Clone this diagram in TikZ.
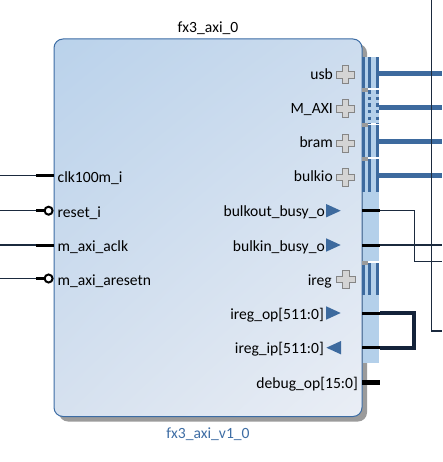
\documentclass[tikz,border=0pt]{standalone}
\usepackage{fontspec}
\usetikzlibrary{shadings}
\setmainfont{Carlito}
\definecolor{bordblue}{HTML}{3C6CA4}
\definecolor{stripblue}{HTML}{B4D0EA}
\definecolor{barblue}{HTML}{3D6A9E}
\definecolor{navy}{HTML}{1B2A3E}
\definecolor{loopnavy}{HTML}{14233A}
\definecolor{shadowgray}{HTML}{9B9B9B}
\definecolor{plusfill}{HTML}{D4D4D4}
\definecolor{plusdraw}{HTML}{858585}
\definecolor{titleblue}{HTML}{3E6DA4}
\definecolor{cUL}{HTML}{BAD2EB}
\definecolor{cUR}{HTML}{CCDCEE}
\definecolor{cLL}{HTML}{D6E1EF}
\definecolor{cLR}{HTML}{EAEEF5}
\tikzset{
  lbl/.style={font=\fontsize{15.6}{18}\selectfont, inner sep=0pt, text=black},
  pinstub/.style={line width=3pt, black},
  busstub/.style={line width=5pt, black},
  wire/.style={line width=1.2pt, navy},
  busline/.style={line width=5pt, barblue},
  loopwire/.style={line width=4pt, loopnavy, line join=miter},
  barfill/.style={fill=barblue},
  seprect/.style={fill=shadowgray},
  bubble/.style={draw=black, fill=white, line width=2pt, circle, minimum size=8pt, inner sep=0pt},
  pics/plusicon/.style={code={
    \filldraw[fill=plusfill, draw=plusdraw, line width=1pt]
      (-9.3,-3.2) -- (-3.2,-3.2) -- (-3.2,-9) -- (3.2,-9) -- (3.2,-3.2) -- (9.3,-3.2)
      -- (9.3,3.2) -- (3.2,3.2) -- (3.2,9) -- (-3.2,9) -- (-3.2,3.2) -- (-9.3,3.2) -- cycle;
  }},
  pics/outtri/.style={code={\fill[barblue] (-7.3,-6.7) -- (7.3,0) -- (-7.3,6.7) -- cycle;}},
  pics/intri/.style={code={\fill[barblue] (7.3,-6.7) -- (-7.3,0) -- (7.3,6.7) -- cycle;}},
}
\begin{document}
\begin{tikzpicture}[x=1pt,y=-1pt]
\useasboundingbox (0,0) rectangle (442,462);
% shadow and block
\node[fill=shadowgray, rounded corners=9pt, minimum width=308pt, minimum height=377.5pt, inner sep=0pt] (shadow) at (213,232.75) {};
\node[shade, upper left=cUL, upper right=cUR, lower left=cLL, lower right=cLR, draw=bordblue, line width=1pt, rounded corners=9pt, minimum width=308pt, minimum height=377.5pt, inner sep=0pt] (blk) at (208,227.75) {};
\node[lbl, anchor=base] (title) at (208,33) {fx3\_axi\_0};
\node[lbl, anchor=base, text=titleblue] (subtitle) at (208,438.3) {fx3\_axi\_v1\_0};

% right strip segments
\fill[stripblue] (362.5,57.5) rectangle (379,88.5);
\fill[stripblue] (362.5,90.3) rectangle (379,123.5);
\fill[stripblue] (362.5,125.3) rectangle (379,157.5);
\fill[stripblue] (362.5,159.3) rectangle (379,261.3);
\fill[stripblue] (362.5,263.3) rectangle (379,362.5);
% interface bars
\foreach \ta/\tb in {57.5/88.5, 125.3/157.5, 159.3/192, 263.3/294.5}{
  \fill[barfill] (362,\ta) rectangle (365,\tb);
  \fill[barfill] (368.3,\ta) rectangle (371,\tb);
  \fill[barfill] (376,\ta) rectangle (379,\tb);
}
\fill[barfill] (362,90.3) rectangle (364.5,123.5);
\draw[barblue, line width=2.7pt, dash pattern=on 3.3pt off 3.3pt] (369.6,90.3) -- (369.6,123.5);
\draw[barblue, line width=3pt, dash pattern=on 3.3pt off 3.3pt] (377.5,90.3) -- (377.5,123.5);
% separators
\foreach \ta in {88.5, 123.5, 157.5, 261.3}{
  \fill[seprect] (362,\ta) rectangle (368,\ta+4);
}

% right-side labels
\node[lbl, anchor=base east] (lusb) at (333,79.5) {usb};
\node[lbl, anchor=base east] (lmaxi) at (333,114) {M\_AXI};
\node[lbl, anchor=base east] (lbram) at (333,148) {bram};
\node[lbl, anchor=base east] (lbulkio) at (333,182) {bulkio};
\node[lbl, anchor=base east] (lbulkout) at (325,216.7) {bulkout\_busy\_o};
\node[lbl, anchor=base east] (lbulkin) at (325,251) {bulkin\_busy\_o};
\node[lbl, anchor=base east] (lireg) at (332,285) {ireg};
\node[lbl, anchor=base east] (liregop) at (324,319) {ireg\_op[511:0]};
\node[lbl, anchor=base east] (liregip) at (324,353.5) {ireg\_ip[511:0]};
\node[lbl, anchor=base east] (ldebug) at (358,388.7) {debug\_op[15:0]};
% icons
\pic at (345.5,75) {plusicon};
\pic at (345.5,109) {plusicon};
\pic at (345.5,143.5) {plusicon};
\pic at (345.5,177.5) {plusicon};
\pic at (346,279.7) {plusicon};
\pic at (333.4,210.7) {outtri};
\pic at (333.4,245) {outtri};
\pic at (333.4,313) {outtri};
\pic at (333.7,347.7) {intri};

% right connectors
\coordinate (usbP) at (379,73.5);   \coordinate (usbE) at (442,73.5);
\coordinate (maxiP) at (379,108);   \coordinate (maxiE) at (442,108);
\coordinate (bramP) at (379,142);   \coordinate (bramE) at (442,142);
\coordinate (bulkioP) at (379,176); \coordinate (bulkioE) at (442,176);
\draw[busline] (usbP) -- (usbE);
\draw[busline] (maxiP) -- (maxiE);
\draw[busline] (bramP) -- (bramE);
\draw[busline] (bulkioP) -- (bulkioE);

\coordinate (boS) at (362,210.7); \coordinate (boP) at (380,210.7);
\coordinate (biS) at (362,245);   \coordinate (biP) at (380,245);
\coordinate (opS) at (362,313);   \coordinate (opP) at (380,313);
\coordinate (ipS) at (362,347.5); \coordinate (ipP) at (380,347.5);
\coordinate (dbS) at (362,382.7); \coordinate (dbP) at (380,382.7);
\coordinate (boT) at (414.3,261.7); \coordinate (boE) at (442,261.7);
\coordinate (biE) at (442,245);
\coordinate (vTop) at (431.7,0); \coordinate (vEnd) at (442,331);
\coordinate (loopX) at (414,330);

\draw[wire] (boP) -| (boT) -- (boE);
\draw[wire] (biP) -- (biE);
\draw[wire] (vTop) |- (vEnd);
\draw[loopwire] (opP) -- (opP -| loopX) -- (ipP -| loopX) -- (ipP);
\draw[pinstub] (boS) -- (boP);
\draw[pinstub] (biS) -- (biP);
\draw[pinstub] (opS) -- (opP);
\draw[pinstub] (ipS) -- (ipP);
\draw[busstub] (dbS) -- (dbP);

% left pins
\coordinate (clkE) at (0,175.7);  \coordinate (clkP) at (36,175.7);  \coordinate (clkB) at (54,175.7);
\coordinate (rstE) at (0,210.7);  \coordinate (rstP) at (36,210.7);
\coordinate (aclkE) at (0,245);   \coordinate (aclkP) at (36,245);   \coordinate (aclkB) at (54,245);
\coordinate (arnE) at (0,278.5);  \coordinate (arnP) at (36,278.5);
\draw[wire] (clkE) -- (clkP);
\draw[wire] (rstE) -- (rstP);
\draw[wire] (aclkE) -- (aclkP);
\draw[wire] (arnE) -- (arnP);
\draw[pinstub] (clkP) -- (clkB);
\draw[pinstub] (aclkP) -- (aclkB);
\node[bubble] (rstB) at (48.6,210.7) {};
\node[bubble] (arnB) at (48.6,278.5) {};
\draw[pinstub] (rstP) -- (rstB.west);
\draw[pinstub] (arnP) -- (arnB.west);

\node[lbl, anchor=base west] (lclk) at (57.5,182.2) {clk100m\_i};
\node[lbl, anchor=base west] (lrst) at (57.5,217.2) {reset\_i};
\node[lbl, anchor=base west] (laclk) at (57.5,251.5) {m\_axi\_aclk};
\node[lbl, anchor=base west] (larn) at (57.5,285) {m\_axi\_aresetn};
\end{tikzpicture}
\end{document}
